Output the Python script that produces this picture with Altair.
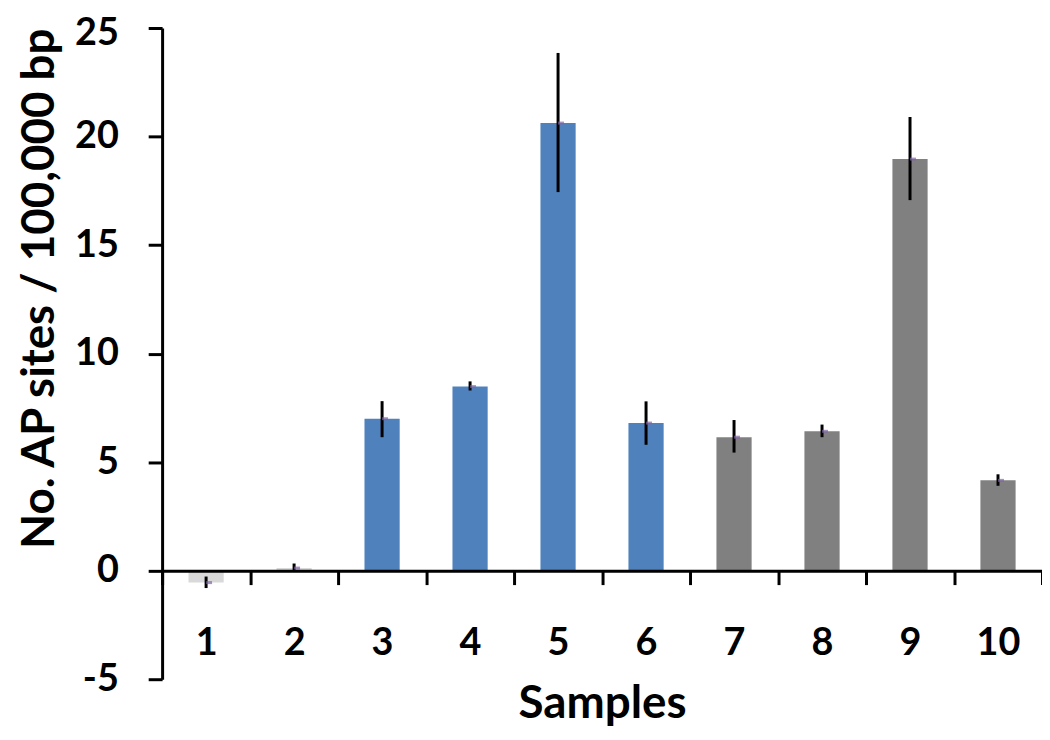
import altair as alt
import pandas as pd

samples = ["1", "2", "3", "4", "5", "6", "7", "8", "9", "10"]
values = [-0.55, 0.12, 7.0, 8.48, 20.62, 6.8, 6.15, 6.42, 18.96, 4.16]
err_low = [-0.8, 0.0, 6.15, 8.3, 17.44, 5.8, 5.44, 6.15, 17.07, 3.91]
err_high = [-0.27, 0.33, 7.81, 8.72, 23.85, 7.8, 6.94, 6.73, 20.9, 4.44]
groups = ["Control", "Control", "Blue", "Blue", "Blue", "Blue",
          "Gray", "Gray", "Gray", "Gray"]
group_names = ["Control", "Blue", "Gray"]
group_colors = ["#D9D9D9", "#4F81BD", "#808080"]
y_ticks = [-5, 0, 5, 10, 15, 20, 25]

df = pd.DataFrame({
    "sample": samples,
    "value": values,
    "lo": err_low,
    "hi": err_high,
    "group": groups,
})

FONT = "Lato"
PLOT_H = 655

x_enc = alt.X(
    "sample:N",
    sort=samples,
    scale=alt.Scale(paddingInner=0, paddingOuter=0),
    axis=alt.Axis(
        title="Samples", orient="bottom", offset=-PLOT_H * 5 / 30, tickBand="extent",
        labelAngle=0, domainColor="black", domainWidth=3,
        tickColor="black", tickWidth=3, tickSize=14,
        labelFont=FONT, labelFontSize=38, labelFontWeight="bold",
        labelColor="black", labelPadding=40,
        titleFont=FONT, titleFontSize=46, titleFontWeight="bold",
        titleColor="black", titlePadding=20, zindex=1,
    ),
)

y_scale = alt.Scale(domain=[-5, 25], nice=False, zero=False)

bars = alt.Chart(df).mark_bar(width=alt.RelativeBandSize(0.4)).encode(
    x=x_enc,
    y=alt.Y(
        "value:Q", scale=y_scale,
        axis=alt.Axis(
            values=y_ticks, title="No. AP sites / 100,000 bp", grid=False,
            labelExpr="datum.value",
            labelOffset=alt.ExprRef("datum.value == 25 ? 6 : 0"),
            domainColor="black", domainWidth=3, tickColor="black",
            tickWidth=3, tickSize=14,
            labelFont=FONT, labelFontSize=38, labelFontWeight="bold",
            labelColor="black", labelPadding=30,
            titleFont=FONT, titleFontSize=46, titleFontWeight="bold",
            titleColor="black", titleAnchor="end", titlePadding=11, zindex=1,
        ),
    ),
    y2=alt.datum(0),
    color=alt.Color("group:N", scale=alt.Scale(domain=group_names, range=group_colors), legend=None),
)

errs = alt.Chart(df).mark_rule(color="black", strokeWidth=3).encode(
    x=alt.X("sample:N", sort=samples),
    y=alt.Y("lo:Q", scale=y_scale),
    y2="hi:Q",
)

dots = alt.Chart(df).mark_tick(color="#8064A2", size=6, thickness=3, xOffset=3).encode(
    x=alt.X("sample:N", sort=samples),
    y=alt.Y("value:Q", scale=y_scale),
)

chart = alt.layer(bars, errs, dots).properties(
    width=885, height=PLOT_H,
    padding={"left": 155, "top": 18, "right": 0, "bottom": 54},
    autosize=alt.AutoSizeParams(type="none"),
).configure_view(stroke=None)

chart.save("out.html", embed_options={"renderer": "svg", "actions": False})
